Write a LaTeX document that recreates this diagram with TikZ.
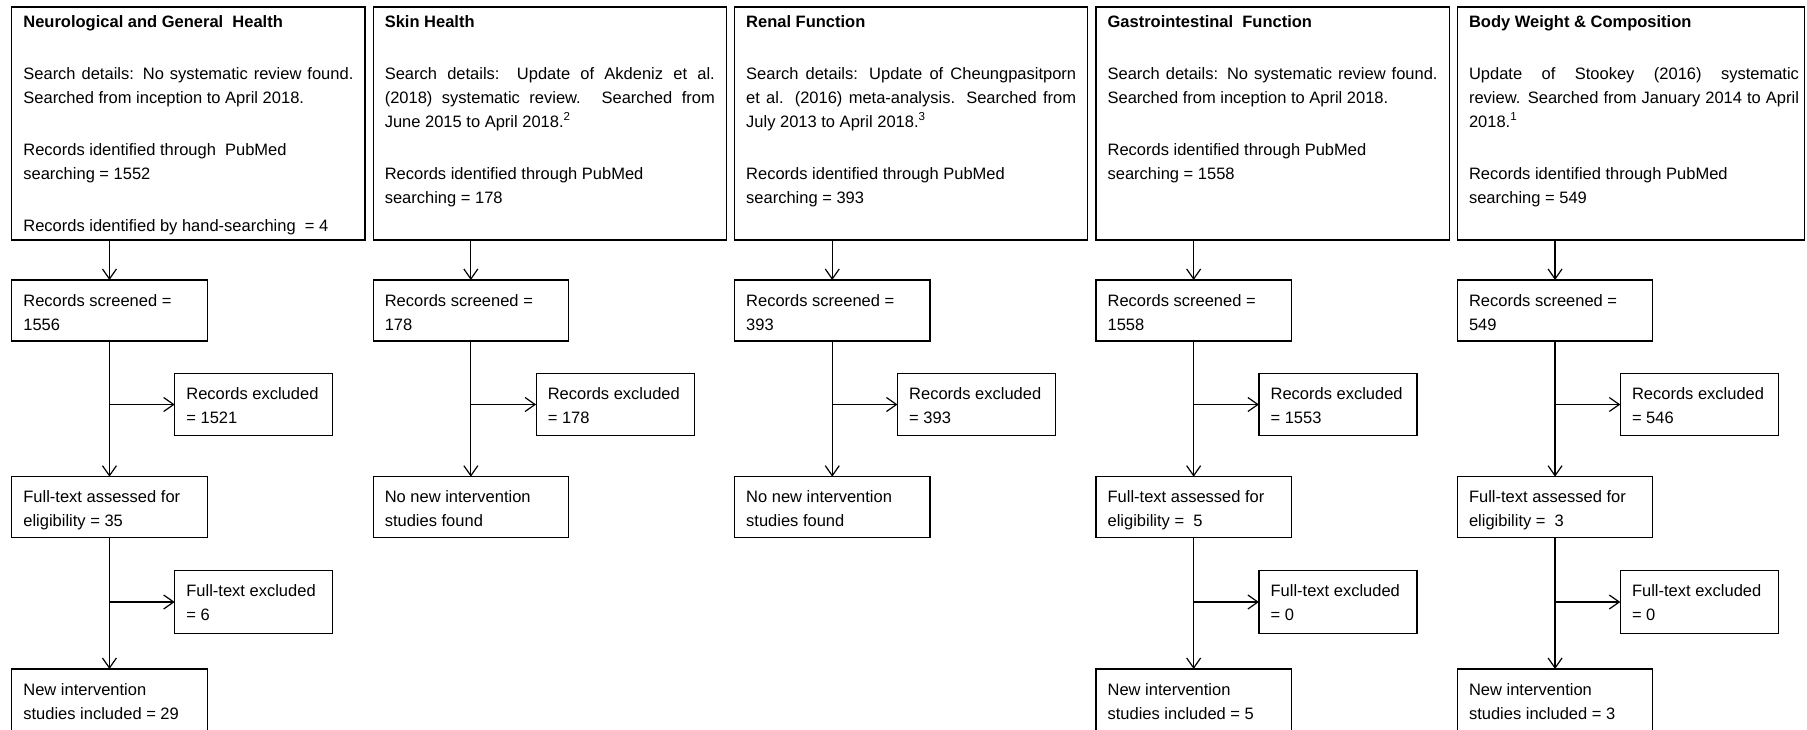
\documentclass[tikz,border=0pt]{standalone}
\usepackage{fontspec}
\setmainfont{Liberation Sans}
\usetikzlibrary{arrows.meta}
\newcommand\fs{\fontsize{16.5}{24}\selectfont}
\newcommand\jl[1]{\makebox[\linewidth][s]{#1}}
\newcommand\pg{\\[28pt]}
\tikzset{
  box/.style={draw, line width=1.2pt, anchor=north west, inner sep=0pt, outer sep=0pt},
  txt/.style={anchor=base west, inner sep=0pt, outer sep=0pt, font=\fs},
  arr/.style={line width=1.2pt, -{Straight Barb[length=10pt,width=14pt,line width=1.2pt]}},
}
% lower box: name, x, y, width, height, text
\newcommand\lbox[6]{%
  \node[box, minimum width=#4pt, minimum height=#5pt] (#1) at (#2,#3) {};
  \node[txt] (#1t) at ([xshift=11.7pt,yshift=-26pt]#1.north west) {\parbox[t]{200pt}{#6}};}
% top box: name, x, width, text
\newcommand\tbox[3]{%
  \node[box, minimum width=#2pt, minimum height=233pt] (#1) at (#3) {};}
\begin{document}
\begin{tikzpicture}[x=1pt, y=-1pt]
\useasboundingbox (0,0) rectangle (1807,729);

% ---------- top boxes ----------
\node[box, minimum width=353.3pt, minimum height=233pt] (t1) at (11.7,7) {};
\node[box, minimum width=353.3pt, minimum height=233pt] (t2) at (373.1,7) {};
\node[box, minimum width=353.3pt, minimum height=233pt] (t3) at (734.5,7) {};
\node[box, minimum width=353.3pt, minimum height=233pt] (t4) at (1095.9,7) {};
\node[box, minimum width=347.5pt, minimum height=233pt] (t5) at (1457.3,7) {};

\node[txt] (t1t) at ([xshift=11.7pt,yshift=-20pt]t1.north west) {\parbox[t]{330pt}{%
\textbf{Neurological and General\ \ Health}\pg
\jl{Search details: No systematic review found.}\\
Searched from inception to April 2018.\pg
Records identified through\ \ PubMed\\
searching = 1552\pg
Records identified by hand-searching\ \ = 4}};

\node[txt] (t2t) at ([xshift=11.7pt,yshift=-20pt]t2.north west) {\parbox[t]{330pt}{%
\textbf{Skin Health}\pg
\jl{Search details: Update of Akdeniz et al.}\\
\jl{(2018) systematic review. Searched from}\\
June 2015 to April 2018.\textsuperscript{2}\pg
Records identified through PubMed\\
searching = 178}};

\node[txt] (t3t) at ([xshift=11.7pt,yshift=-20pt]t3.north west) {\parbox[t]{330pt}{%
\textbf{Renal Function}\pg
\jl{Search details: Update of Cheungpasitporn}\\
\jl{et al. (2016) meta-analysis. Searched from}\\
July 2013 to April 2018.\textsuperscript{3}\pg
Records identified through PubMed\\
searching = 393}};

\node[txt] (t4t) at ([xshift=11.7pt,yshift=-20pt]t4.north west) {\parbox[t]{330pt}{%
\textbf{Gastrointestinal\ \ Function}\pg
\jl{Search details: No systematic review found.}\\
Searched from inception to April 2018.\pg
Records identified through PubMed\\
searching = 1558}};

\node[txt] (t5t) at ([xshift=11.7pt,yshift=-20pt]t5.north west) {\parbox[t]{330pt}{%
\textbf{Body Weight \& Composition}\pg
\jl{Update of Stookey (2016) systematic}\\
\jl{review. Searched from January 2014 to April}\\
2018.\textsuperscript{1}\pg
Records identified through PubMed\\
searching = 549}};

% ---------- column 1 ----------
\lbox{s1}{11.7}{280}{195.5}{61}{Records screened =\\1556}
\lbox{e1}{174.7}{373.3}{158}{62.4}{Records excluded\\= 1521}
\lbox{f1}{11.7}{476.7}{195.5}{60.6}{Full-text assessed for\\eligibility = 35}
\lbox{x1}{174.7}{570.7}{158}{62.6}{Full-text excluded\\= 6}
\lbox{n1}{11.7}{669}{195.5}{75}{New intervention\\studies included = 29}

% ---------- column 2 ----------
\lbox{s2}{373.1}{280}{195.5}{61}{Records screened =\\178}
\lbox{e2}{536.1}{373.3}{158}{62.4}{Records excluded\\= 178}
\lbox{f2}{373.1}{476.7}{195.5}{60.6}{No new intervention\\studies found}

% ---------- column 3 ----------
\lbox{s3}{734.5}{280}{195.5}{61}{Records screened =\\393}
\lbox{e3}{897.5}{373.3}{158}{62.4}{Records excluded\\= 393}
\lbox{f3}{734.5}{476.7}{195.5}{60.6}{No new intervention\\studies found}

% ---------- column 4 ----------
\lbox{s4}{1095.9}{280}{195.5}{61}{Records screened =\\1558}
\lbox{e4}{1258.9}{373.3}{158}{62.4}{Records excluded\\= 1553}
\lbox{f4}{1095.9}{476.7}{195.5}{60.6}{Full-text assessed for\\eligibility =\ \ 5}
\lbox{x4}{1258.9}{570.7}{158}{62.6}{Full-text excluded\\= 0}
\lbox{n4}{1095.9}{669}{195.5}{75}{New intervention\\studies included = 5}

% ---------- column 5 ----------
\lbox{s5}{1457.3}{280}{195.5}{61}{Records screened =\\549}
\lbox{e5}{1620.3}{373.3}{158}{62.4}{Records excluded\\= 546}
\lbox{f5}{1457.3}{476.7}{195.5}{60.6}{Full-text assessed for\\eligibility =\ \ 3}
\lbox{x5}{1620.3}{570.7}{158}{62.6}{Full-text excluded\\= 0}
\lbox{n5}{1457.3}{669}{195.5}{75}{New intervention\\studies included = 3}

% ---------- connectors ----------
\foreach \i in {1,...,5}{
  \draw[arr] (s\i.north |- t\i.south) -- (s\i.north);
  \draw[arr] (s\i.south) -- (f\i.north);
  \draw[arr] (s\i.south |- e\i.west) -- (e\i.west);
}
\foreach \i in {1,4,5}{
  \draw[arr] (f\i.south) -- (n\i.north);
  \draw[arr] (f\i.south |- x\i.west) -- (x\i.west);
}
\end{tikzpicture}
\end{document}
